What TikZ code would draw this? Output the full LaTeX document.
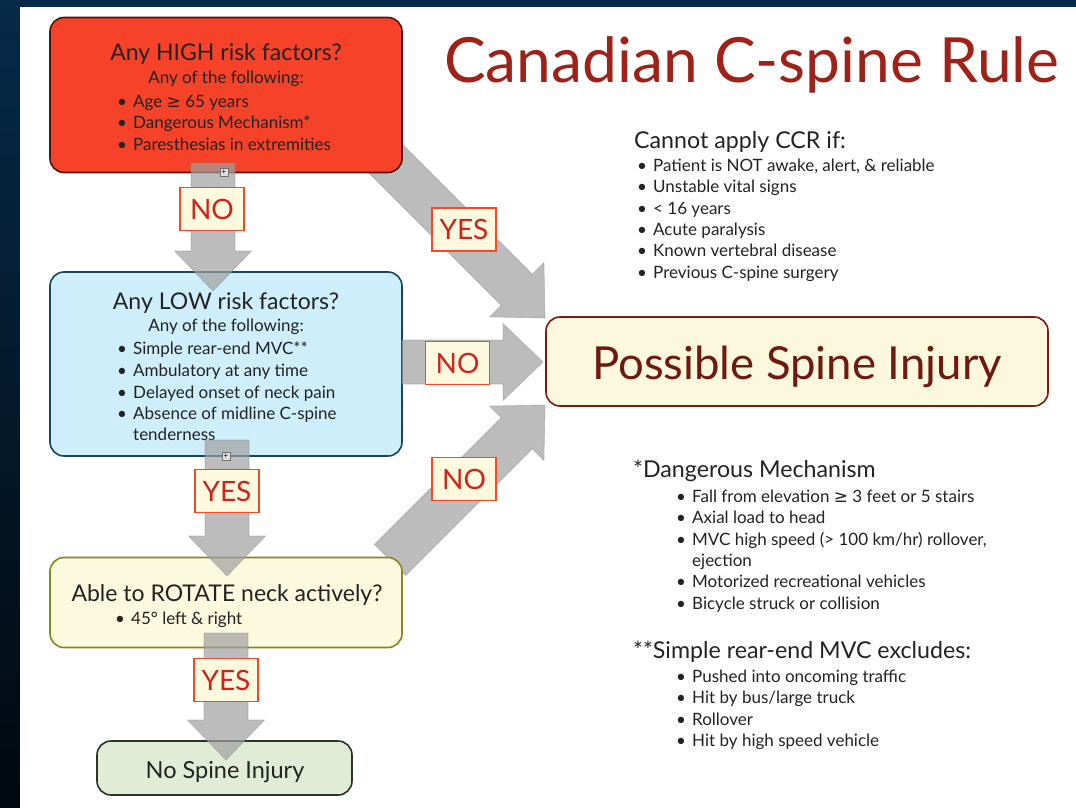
\documentclass[tikz,border=0pt]{standalone}
\usepackage{fontspec}
\setmainfont{Lato}
\newfontfamily\symfont{DejaVu Sans}
\usetikzlibrary{calc}
\definecolor{navy}{RGB}{7,42,72}
\definecolor{navydark}{RGB}{1,8,15}
\definecolor{txt}{RGB}{35,35,35}
\definecolor{titlered}{RGB}{158,34,24}
\definecolor{possred}{RGB}{110,26,16}
\definecolor{redfill}{RGB}{245,66,40}
\definecolor{redline}{RGB}{80,22,14}
\definecolor{bluefill}{RGB}{205,238,250}
\definecolor{blueline}{RGB}{23,71,96}
\definecolor{yelfill}{RGB}{252,250,222}
\definecolor{yelline}{RGB}{138,134,30}
\definecolor{grnfill}{RGB}{224,236,214}
\definecolor{grnline}{RGB}{42,54,32}
\definecolor{possfill}{RGB}{252,248,222}
\definecolor{possline}{RGB}{122,28,16}
\definecolor{lblline}{RGB}{244,74,42}
\definecolor{lblfill}{RGB}{252,249,223}
\definecolor{lbltext}{RGB}{210,35,25}
\definecolor{arrowgray}{RGB}{160,160,160}
\newcommand\bl{\makebox[16pt][l]{\textbullet}}
\newcommand\fs[1]{\fontsize{#1}{#1}\selectfont}
\newcommand\blockarrow[2]{%
  \coordinate (bA) at (#1);
  \coordinate (bB) at (#2);
  \coordinate (bC) at ($(bB)!40pt!(bA)$);
  \filldraw[arrowstyle] ($(bA)!22pt!90:(bB)$) -- ($(bC)!22pt!90:(bB)$) -- ($(bC)!38.5pt!90:(bB)$) -- (bB) -- ($(bC)!38.5pt!-90:(bB)$) -- ($(bC)!22pt!-90:(bB)$) -- ($(bA)!22pt!-90:(bB)$) -- cycle;}
\begin{document}
\begin{tikzpicture}[x=1pt,y=-1pt,
  box/.style={rounded corners=14pt, line width=1.6pt, inner sep=0pt},
  arrowstyle/.style={fill=arrowgray, fill opacity=0.7, draw=black!45, draw opacity=0.5, line width=0.6pt},
  lbl/.style={draw=lblline, line width=1.6pt, fill=lblfill, text=lbltext, minimum width=64pt, minimum height=43pt, inner sep=0pt, font=\fs{28}},
  head/.style={text=txt, inner sep=0pt, anchor=base, font=\fs{23}},
  sub/.style={text=txt, inner sep=0pt, anchor=base, font=\fs{17}},
  item/.style={text=txt, inner sep=0pt, anchor=base west, font=\fs{17}},
  rhead/.style={text=txt, inner sep=0pt, anchor=base west, font=\fs{23.2}},
  tiny/.style={draw=black!55, fill=black!12, line width=0.5pt, minimum size=8pt, inner sep=0pt, font=\fs{8}}]
\useasboundingbox (0,0) rectangle (1076,808);
\shade[top color=navy, bottom color=navydark] (0,0) rectangle (1076,808);
\fill[white] (20,7) rectangle (1076,808);

% connector end points
\coordinate (dyS) at (376,149);
\coordinate (dyE) at (545,318);
\coordinate (dnS) at (390,560);
\coordinate (dnE) at (545,405);
\coordinate (v1S) at (213,163);
\coordinate (v1E) at (213,291);
\coordinate (v2S) at (227,440);
\coordinate (v2E) at (227,576);
\coordinate (v3S) at (226,633);
\coordinate (v3E) at (226,760);
\coordinate (hS) at (402,362);
\coordinate (hE) at (543,362);

% diagonal arrows (behind boxes)
\blockarrow{dyS}{dyE}
\blockarrow{dnS}{dnE}

% boxes
\node[box, fill=redfill, draw=redline, minimum width=352pt, minimum height=155pt] (high) at (226,95) {};
\node[box, fill=bluefill, draw=blueline, minimum width=352pt, minimum height=184pt] (low) at (226,364) {};
\node[box, fill=yelfill, draw=yelline, minimum width=352pt, minimum height=90pt] (rot) at (226,602.5) {};
\node[box, fill=grnfill, draw=grnline, minimum width=255pt, minimum height=54pt] (none) at (224.5,768) {};
\node[box, fill=possfill, draw=possline, minimum width=502pt, minimum height=89pt] (poss) at (797,361.5) {};

% box texts
\node[head] (hh) at (226,60) {Any HIGH risk factors?};
\node[sub] (hs) at (226,83) {Any of the following:};
\node[item] (h1) at (117,107) {\bl Age {\symfont ≥} 65 years};
\node[item] (h2) at (117,128) {\bl Dangerous Mechanism*};
\node[item] (h3) at (117,150) {\bl Paresthesias in extremities};

\node[head] (lh) at (226,309) {Any LOW risk factors?};
\node[sub] (ls) at (226,331) {Any of the following:};
\node[item] (l1) at (117,354) {\bl Simple rear-end MVC**};
\node[item] (l2) at (117,376) {\bl Ambulatory at any time};
\node[item] (l3) at (117,398) {\bl Delayed onset of neck pain};
\node[item] (l4) at (117,419) {\bl Absence of midline C-spine};
\node[item] (l5) at (133,440) {tenderness};

\node[head] (rh) at (227,601) {Able to ROTATE neck actively?};
\node[item] (r1) at (115,624) {\bl 45° left \& right};

\node[head, font=\fs{23.5}] (nh) at (225,778) {No Spine Injury};
\node[text=possred, inner sep=0pt, anchor=base, font=\fs{45.5}] (ph) at (797,379) {Possible Spine Injury};

% title
\node[text=titlered, inner sep=0pt, anchor=base west, font=\fs{62.3}] (title) at (444,82) {Canadian C-spine Rule};

% right text
\node[rhead] (ch) at (634,148) {Cannot apply CCR if:};
\foreach \y/\t [count=\i] in {171.5/{Patient is NOT awake, alert, \& reliable},192.8/{Unstable vital signs},214.1/{< 16 years},235.4/{Acute paralysis},256.7/{Known vertebral disease},278/{Previous C-spine surgery}}
  \node[item] (c\i) at (637,\y) {\bl\t};

\node[rhead] (dh) at (633,477) {*Dangerous Mechanism};
\foreach \y/\t [count=\i] in {502/{Fall from elevation {\symfont ≥} 3 feet or 5 stairs},523/{Axial load to head},545/{MVC high speed (> 100 km/hr) rollover,}}
  \node[item] (d\i) at (676,\y) {\bl\t};
\node[item] (d4) at (692,566) {ejection};
\node[item] (d5) at (676,587) {\bl Motorized recreational vehicles};
\node[item] (d6) at (676,609) {\bl Bicycle struck or collision};

\node[rhead] (sh) at (633,658) {**Simple rear-end MVC excludes:};
\foreach \y/\t [count=\i] in {682/{Pushed into oncoming traffic},703/{Hit by bus/large truck},725/{Rollover},746/{Hit by high speed vehicle}}
  \node[item] (s\i) at (676,\y) {\bl\t};

% vertical and horizontal arrows (over boxes)
\blockarrow{v1S}{v1E}
\blockarrow{v2S}{v2E}
\blockarrow{v3S}{v3E}
\blockarrow{hS}{hE}

% tiny collapse markers
\node[tiny] (t1) at (224,172) {+};
\node[tiny] (t2) at (226,456) {+};

% labels
\node[lbl] (no1) at (212,209) {NO};
\node[lbl] (yes1) at (464,229.5) {YES};
\node[lbl] (no2) at (457.5,363) {NO};
\node[lbl] (yes2) at (227,491) {YES};
\node[lbl] (no3) at (464,479) {NO};
\node[lbl] (yes3) at (226,680) {YES};
\end{tikzpicture}
\end{document}
